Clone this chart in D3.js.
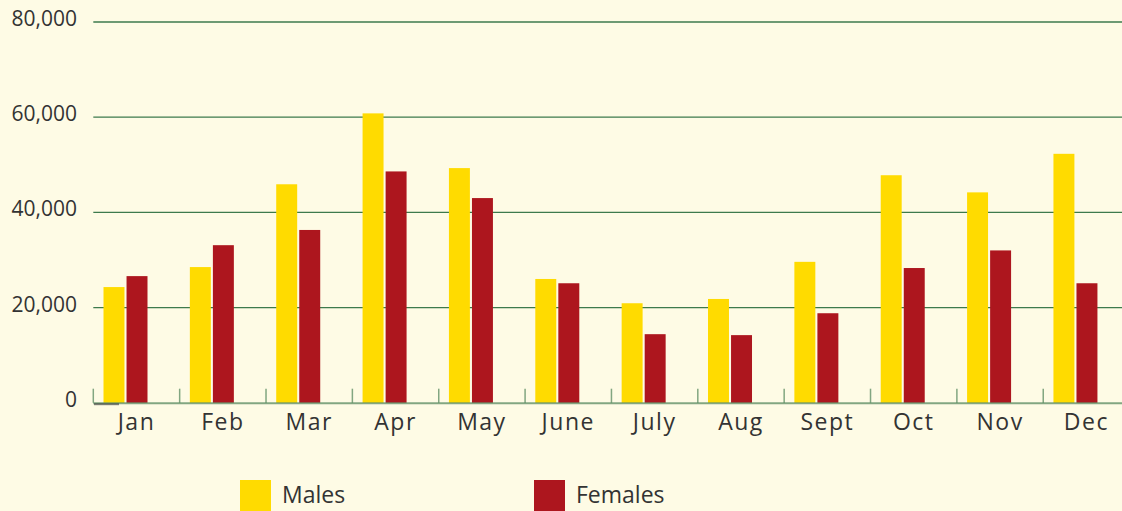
<!DOCTYPE html>
<html>
<head>
<meta charset="utf-8">
<script src="https://cdn.jsdelivr.net/npm/d3@7"></script>
<style>
  html, body { margin: 0; padding: 0; background: #fefbe5; }
  svg { display: block; font-family: "Open Sans", sans-serif; }
</style>
</head>
<body>
<script>
// data
const months = ["Jan", "Feb", "Mar", "Apr", "May", "June", "July", "Aug", "Sept", "Oct", "Nov", "Dec"];
const series = ["Males", "Females"];
const males = [24300, 28500, 45900, 60800, 49300, 26000, 20900, 21800, 29600, 47800, 44200, 52300];
const females = [26600, 33100, 36300, 48600, 43000, 25100, 14400, 14200, 18800, 28300, 32000, 25100];
const yTicks = [0, 20000, 40000, 60000, 80000];
const colors = ["#ffdb00", "#ad161e"];

const width = 1122, height = 511;

const svg = d3.select("body").append("svg")
  .attr("width", width).attr("height", height);

svg.append("rect").attr("width", width).attr("height", height).attr("fill", "#fefbe5");

// scales
let x = d3.scaleBand().domain(months).range([93.3, 1129.6]).padding(0);
let x1 = d3.scaleBand().domain(series).range([10.2, 54.2]).paddingInner(0.09);
let y = d3.scaleLinear().domain([0, 80000]).range([402.7, 22]);

// gridlines
svg.append("g")
  .selectAll("line")
  .data(yTicks.filter(d => d > 0))
  .enter()
  .append("line")
  .attr("x1", 93.3).attr("x2", width)
  .attr("y1", d => y(d)).attr("y2", d => y(d))
  .attr("stroke", "#3d7a4c")
  .attr("stroke-width", 1.3);

// y labels
svg.append("g")
  .selectAll("text")
  .data(yTicks)
  .enter()
  .append("text")
  .attr("x", 77)
  .attr("y", d => y(d) + 4)
  .attr("text-anchor", "end")
  .attr("font-size", 21)
  .attr("fill", "#333")
  .text(d => d3.format(",")(d));

// bars
const rows = months.map((m, i) => ({ month: m, values: [males[i], females[i]] }));
svg.append("g")
  .selectAll("g")
  .data(rows)
  .enter()
  .append("g")
  .attr("transform", d => `translate(${x(d.month)},0)`)
  .selectAll("rect")
  .data(d => d.values.map((v, j) => ({ key: series[j], value: v, color: colors[j] })))
  .enter()
  .append("rect")
  .attr("x", d => x1(d.key))
  .attr("width", x1.bandwidth())
  .attr("y", d => y(d.value))
  .attr("height", d => y(0) - y(d.value))
  .attr("fill", d => d.color);

// baseline and ticks (drawn over bars, semi-transparent)
const base = svg.append("g").attr("stroke", "#2f6e3e").attr("stroke-opacity", 0.6);
base.append("line")
  .attr("x1", 93.3).attr("x2", width)
  .attr("y1", y(0) + 0.5).attr("y2", y(0) + 0.5)
  .attr("stroke-width", 2);
base.selectAll(".tick")
  .data(months)
  .enter()
  .append("line")
  .attr("class", "tick")
  .attr("x1", d => x(d)).attr("x2", d => x(d))
  .attr("y1", y(0)).attr("y2", y(0) - 14)
  .attr("stroke-width", 1.5);
svg.append("line")
  .attr("x1", 94).attr("x2", 119)
  .attr("y1", y(0) + 1.5).attr("y2", y(0) + 1.5)
  .attr("stroke", "#333").attr("stroke-opacity", 0.6).attr("stroke-width", 2);

// month labels
svg.append("g")
  .selectAll("text")
  .data(months)
  .enter()
  .append("text")
  .attr("x", d => x(d) + x.bandwidth() / 2)
  .attr("y", 430)
  .attr("text-anchor", "middle")
  .attr("font-size", 23)
  .attr("letter-spacing", 1.5)
  .attr("fill", "#333")
  .text(d => d);

// legend
const legendX = [240, 534];
const legend = svg.append("g")
  .selectAll("g")
  .data(series)
  .enter()
  .append("g")
  .attr("transform", (d, i) => `translate(${legendX[i]},480)`);
legend.append("rect")
  .attr("width", 31).attr("height", 33)
  .attr("fill", (d, i) => colors[i]);
legend.append("text")
  .attr("x", 42).attr("y", 23)
  .attr("font-size", 23)
  .attr("fill", "#333")
  .text(d => d);
</script>
</body>
</html>
